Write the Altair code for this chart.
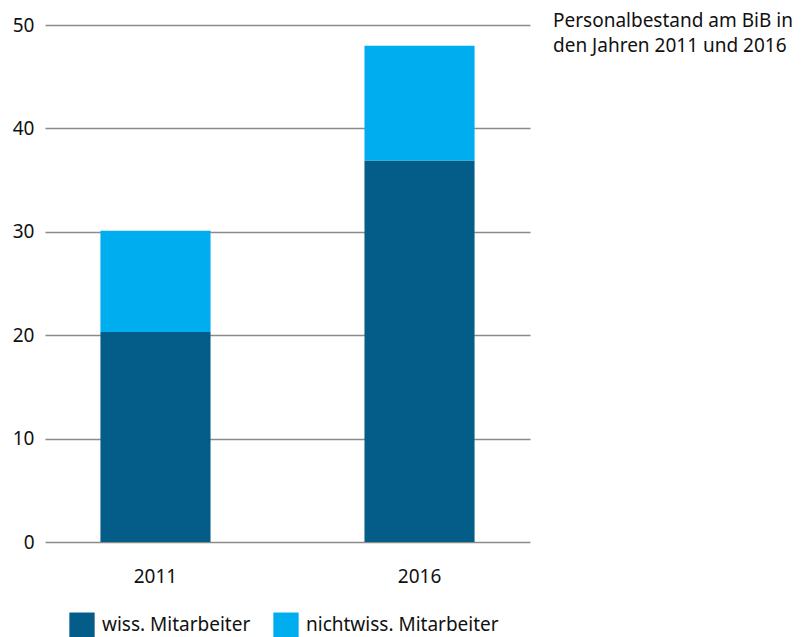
import altair as alt
import pandas as pd

years = ["2011", "2016"]
wiss = [20.3, 36.9]
nichtwiss = [9.8, 11.1]
groups = ["wiss. Mitarbeiter", "nichtwiss. Mitarbeiter"]
colors = ["#045d89", "#00adee"]
title_lines = ["Personalbestand am BiB in", "den Jahren 2011 und 2016"]

rows = []
for i, y in enumerate(years):
    rows.append({"Jahr": y, "Gruppe": groups[0], "Wert": wiss[i], "ord": 0})
    rows.append({"Jahr": y, "Gruppe": groups[1], "Wert": nichtwiss[i], "ord": 1})
df = pd.DataFrame(rows)

FONT = "Noto Sans"
FS = 19

bars = alt.Chart(df).mark_bar().encode(
    x=alt.X("Jahr:N", title=None,
            scale=alt.Scale(paddingInner=0.583, paddingOuter=0.21),
            axis=alt.Axis(labelAngle=0, domain=False, ticks=False, labelPadding=25,
                          labelFontSize=FS, labelFont=FONT, labelColor="#111")),
    y=alt.Y("Wert:Q", title=None, stack="zero",
            scale=alt.Scale(domain=[0, 50]),
            axis=alt.Axis(values=[0, 10, 20, 30, 40, 50], domain=False, ticks=False,
                          labelPadding=11, labelFontSize=FS, labelFont=FONT,
                          labelColor="#111", grid=True, gridColor="#8a8a8a",
                          gridWidth=1.5)),
    color=alt.Color("Gruppe:N", title=None,
                    scale=alt.Scale(domain=groups, range=colors),
                    legend=alt.Legend(orient="none", legendX=24, legendY=587,
                                      direction="horizontal", symbolType="square",
                                      symbolSize=640, symbolStrokeWidth=0,
                                      labelFontSize=FS, labelFont=FONT, labelLimit=0,
                                      labelColor="#111", columnPadding=22,
                                      labelOffset=7)),
    order=alt.Order("ord:Q"),
)

t1 = alt.Chart(pd.DataFrame({"t": [title_lines[0]]})).mark_text(
    align="left", baseline="middle", fontSize=FS, font=FONT, color="#111"
).encode(text="t:N", x=alt.value(508), y=alt.value(-4))
t2 = alt.Chart(pd.DataFrame({"t": [title_lines[1]]})).mark_text(
    align="left", baseline="middle", fontSize=FS, font=FONT, color="#111"
).encode(text="t:N", x=alt.value(508), y=alt.value(21))

chart = alt.layer(bars, t1, t2).properties(
    width=485, height=517,
    autosize=alt.AutoSizeParams(type="none"),
    padding={"left": 37, "top": 17, "right": 270, "bottom": 110},
).configure_view(stroke=None)

chart.save("out.html", embed_options={"renderer": "svg", "actions": False})
